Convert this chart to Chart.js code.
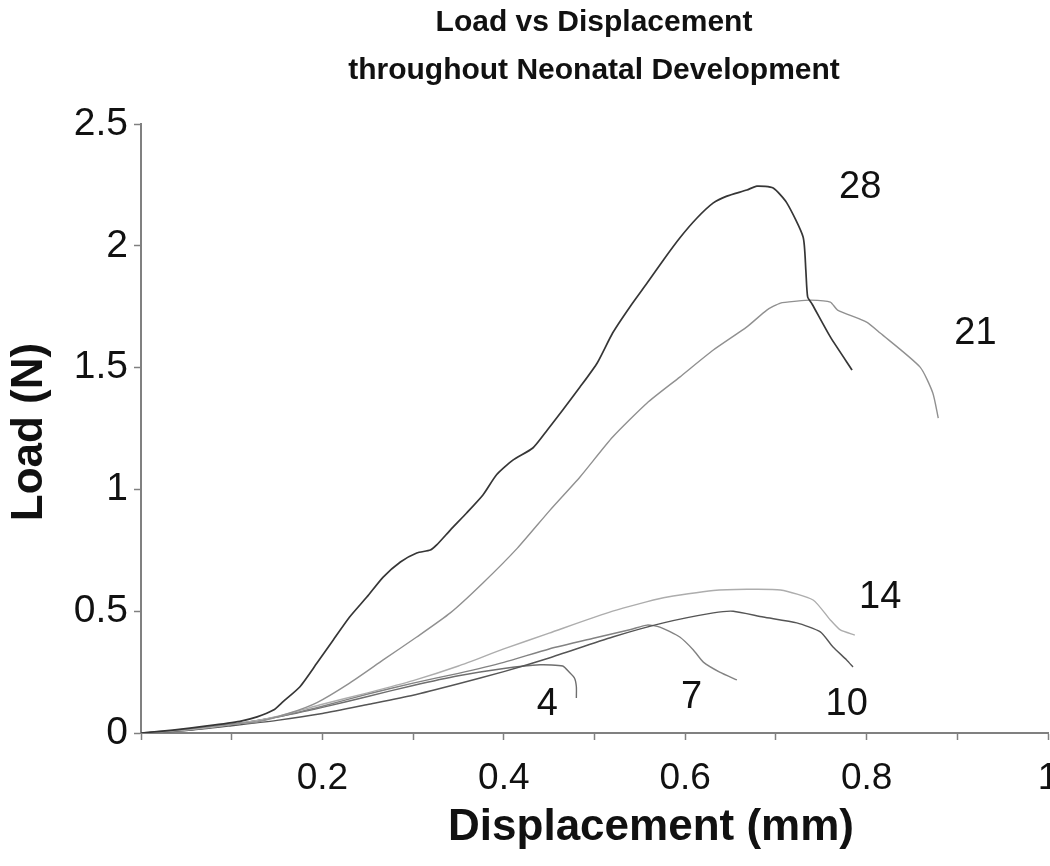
<!DOCTYPE html>
<html>
<head>
<meta charset="utf-8">
<title>Load vs Displacement</title>
<script src="https://cdn.jsdelivr.net/npm/chart.js@4.4.1/dist/chart.umd.min.js"></script>
<style>
  html, body { margin: 0; padding: 0; background: #fff; }
  canvas { display: block; }
</style>
</head>
<body>
<canvas id="loadChart" width="1050" height="866"></canvas>
<script>
// Curve data: displacement (mm) and load (N) per age (days)
const disp28 = [0, 0.035, 0.073, 0.109, 0.128, 0.146, 0.157, 0.175, 0.194, 0.212, 0.230, 0.249, 0.267, 0.286, 0.304, 0.319, 0.326, 0.341, 0.359, 0.377, 0.392, 0.410, 0.432, 0.448, 0.465, 0.484, 0.503, 0.520, 0.539, 0.558, 0.576, 0.594, 0.613, 0.631, 0.646, 0.668, 0.679, 0.697, 0.712, 0.730, 0.733, 0.735, 0.740, 0.760, 0.784];
const load28 = [0, 0.012, 0.029, 0.048, 0.066, 0.094, 0.130, 0.189, 0.287, 0.382, 0.476, 0.558, 0.640, 0.702, 0.739, 0.751, 0.772, 0.833, 0.903, 0.977, 1.060, 1.120, 1.170, 1.244, 1.326, 1.420, 1.519, 1.642, 1.749, 1.847, 1.942, 2.032, 2.114, 2.176, 2.204, 2.229, 2.245, 2.237, 2.176, 2.036, 1.900, 1.790, 1.760, 1.626, 1.490];

const disp21 = [0, 0.035, 0.073, 0.109, 0.128, 0.164, 0.194, 0.230, 0.267, 0.304, 0.341, 0.377, 0.415, 0.451, 0.484, 0.520, 0.558, 0.594, 0.631, 0.668, 0.690, 0.705, 0.723, 0.738, 0.760, 0.768, 0.800, 0.815, 0.859, 0.873, 0.879];
const load21 = [0, 0.010, 0.025, 0.040, 0.045, 0.082, 0.125, 0.205, 0.300, 0.394, 0.493, 0.616, 0.759, 0.915, 1.051, 1.215, 1.355, 1.461, 1.572, 1.667, 1.736, 1.765, 1.773, 1.777, 1.769, 1.736, 1.687, 1.642, 1.502, 1.396, 1.293];

const disp14 = [0, 0.05, 0.10, 0.15, 0.20, 0.25, 0.30, 0.35, 0.40, 0.45, 0.52, 0.576, 0.631, 0.668, 0.705, 0.741, 0.760, 0.771, 0.787];
const load14 = [0, 0.012, 0.035, 0.068, 0.118, 0.165, 0.215, 0.275, 0.345, 0.410, 0.500, 0.555, 0.585, 0.590, 0.587, 0.546, 0.464, 0.423, 0.402];

const disp10 = [0, 0.05, 0.10, 0.15, 0.20, 0.25, 0.30, 0.35, 0.40, 0.45, 0.52, 0.576, 0.631, 0.653, 0.686, 0.723, 0.749, 0.763, 0.778, 0.785];
const load10 = [0, 0.010, 0.030, 0.052, 0.080, 0.117, 0.155, 0.202, 0.252, 0.308, 0.394, 0.452, 0.493, 0.500, 0.476, 0.452, 0.415, 0.353, 0.300, 0.271];

const disp7 = [0, 0.05, 0.10, 0.15, 0.20, 0.25, 0.30, 0.35, 0.40, 0.45, 0.50, 0.54, 0.558, 0.572, 0.594, 0.609, 0.620, 0.638, 0.657];
const load7 = [0, 0.012, 0.035, 0.066, 0.110, 0.160, 0.205, 0.245, 0.290, 0.345, 0.390, 0.425, 0.443, 0.435, 0.394, 0.341, 0.291, 0.250, 0.218];

const disp4 = [0, 0.05, 0.10, 0.15, 0.20, 0.25, 0.30, 0.35, 0.40, 0.44, 0.465, 0.472, 0.478, 0.480, 0.480];
const load4 = [0, 0.012, 0.035, 0.065, 0.105, 0.150, 0.195, 0.235, 0.265, 0.280, 0.275, 0.250, 0.225, 0.190, 0.144];

const ages = ['28', '21', '14', '10', '7', '4'];
const lineColors = ['#363636', '#909090', '#adadad', '#555555', '#828282', '#6e6e6e'];

// where each age label sits, in data units
const ageLabelX = [0.793, 0.92, 0.815, 0.778, 0.607, 0.448];
const ageLabelY = [2.24, 1.64, 0.558, 0.115, 0.144, 0.115];

const titleLines = ['Load vs Displacement', 'throughout Neonatal Development'];
const xTitle = 'Displacement (mm)';
const yTitle = 'Load (N)';

const FONT = '"Liberation Sans", Arial, sans-serif';

function toPoints(xs, ys) {
    return xs.map((x, i) => ({ x: x, y: ys[i] }));
}

const seriesX = [disp28, disp21, disp14, disp10, disp7, disp4];
const seriesY = [load28, load21, load14, load10, load7, load4];

const datasets = ages.map((age, i) => ({
    label: age,
    data: toPoints(seriesX[i], seriesY[i]),
    showLine: true,
    borderColor: lineColors[i],
    borderWidth: i === 0 ? 1.7 : 1.4,
    pointRadius: 0,
    tension: 0.2,
    fill: false
}));

// titles and the age numbers next to each curve
const extraText = {
    id: 'extraText',
    afterDraw(chart) {
        const ctx = chart.ctx;
        const xs = chart.scales.x;
        const ys = chart.scales.y;
        ctx.save();
        ctx.fillStyle = '#111';
        ctx.textAlign = 'center';
        ctx.textBaseline = 'middle';

        ctx.font = 'bold 30px ' + FONT;
        ctx.fillText(titleLines[0], 594, 23);
        ctx.fillText(titleLines[1], 594, 71);

        ctx.font = 'bold 44px ' + FONT;
        ctx.fillText(xTitle, 651, 828);

        ctx.save();
        ctx.translate(30, 432);
        ctx.rotate(-Math.PI / 2);
        ctx.fillText(yTitle, 0, 0);
        ctx.restore();

        ctx.font = '38px ' + FONT;
        ages.forEach((age, i) => {
            ctx.fillText(age, xs.getPixelForValue(ageLabelX[i]), ys.getPixelForValue(ageLabelY[i]));
        });
        ctx.restore();
    }
};

document.addEventListener('DOMContentLoaded', () => {
    const ctx = document.getElementById('loadChart').getContext('2d');
    new Chart(ctx, {
        type: 'scatter',
        data: { datasets: datasets },
        options: {
            responsive: false,
            animation: false,
            layout: { padding: { top: 124, right: 2, left: 0, bottom: 0 } },
            plugins: {
                legend: { display: false },
                tooltip: { enabled: false }
            },
            scales: {
                x: {
                    type: 'linear',
                    min: 0,
                    max: 1,
                    border: { color: '#808080', width: 2 },
                    grid: { drawOnChartArea: false, drawTicks: true, tickLength: 7, tickColor: '#808080', tickWidth: 1.5 },
                    ticks: {
                        stepSize: 0.1,
                        autoSkip: false,
                        maxRotation: 0,
                        padding: 17,
                        color: '#111',
                        font: { family: FONT, size: 37 },
                        callback: (v) => {
                            const r = Math.round(v * 10);
                            return (r > 0 && r % 2 === 0) ? String(+(r / 10).toFixed(1)) : '';
                        }
                    },
                    afterFit: (scale) => {
                        scale.height = 133;
                        scale.paddingLeft = 0;
                        scale.paddingRight = 0;
                    }
                },
                y: {
                    min: 0,
                    max: 2.5,
                    border: { color: '#808080', width: 2 },
                    grid: { drawOnChartArea: false, drawTicks: true, tickLength: 7, tickColor: '#808080', tickWidth: 1.5 },
                    ticks: {
                        stepSize: 0.5,
                        padding: 6,
                        color: '#111',
                        font: { family: FONT, size: 39 },
                        callback: (v) => String(+(Math.round(v * 10) / 10).toFixed(1))
                    },
                    afterFit: (scale) => {
                        scale.width = 141;
                        scale.paddingTop = 0;
                        scale.paddingBottom = 0;
                    }
                }
            }
        },
        plugins: [extraText]
    });
});
</script>
</body>
</html>
